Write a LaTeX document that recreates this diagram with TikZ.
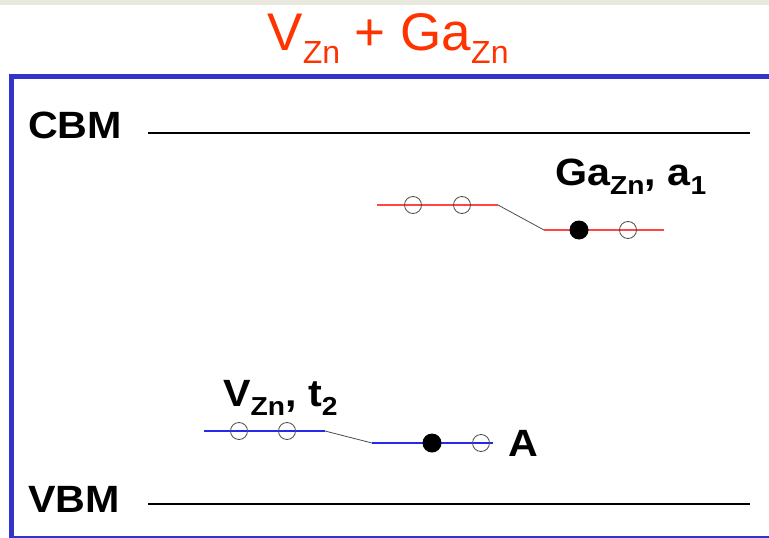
\documentclass[tikz,border=0pt]{standalone}
\usepackage{fontspec}
\setmainfont{Liberation Sans}
\newfontfamily\labelfont[FakeStretch=1.085]{Liberation Sans}
\usetikzlibrary{positioning}
\definecolor{frameblue}{RGB}{51,51,204}
\definecolor{titlered}{RGB}{255,51,0}
\definecolor{levelred}{RGB}{255,70,70}
\definecolor{levelblue}{RGB}{40,40,235}
\definecolor{bandgray}{RGB}{232,232,222}
\newcommand{\subtext}[2][26]{\raisebox{-0.25em}{\fontsize{#1}{#1}\selectfont #2}}

\begin{document}
\begin{tikzpicture}[x=1pt, y=-1pt,
    every node/.style={font=\labelfont\fontsize{38}{38}\selectfont\bfseries, inner sep=0pt},
    bandedge/.style={black, line width=2pt},
    redlevel/.style={levelred, line width=1.5pt},
    bluelevel/.style={levelblue, line width=1.5pt},
    tilt/.style={black!70, line width=0.8pt},
    hole/.style={circle, draw=black!70, line width=0.8pt, minimum size=17pt},
    electron/.style={circle, fill=black, minimum size=19pt}]
  \useasboundingbox (0,0) rectangle (769,538);

  % Background band and frame
  \fill[bandgray] (0,0) rectangle (769,5);
  \draw[frameblue, line width=5pt] (790,76) -- (11,76) -- (11,538) -- (790,538);

  % Title
  \node[anchor=base, text=titlered, font=\rmfamily\fontsize{53}{53}\selectfont] (title) at (388,50)
    {V\subtext[32]{Zn} + Ga\subtext[32]{Zn}};

  % Band edges
  \node[anchor=base west] (cbm) at (28,138) {CBM};
  \coordinate (cbmL) at (148,133);
  \coordinate (cbmR) at (750,133);
  \draw[bandedge] (cbmL) -- (cbmR);
  \node[anchor=base west] (vbm) at (28,512) {VBM};
  \coordinate (vbmL) at (148,504);
  \coordinate (vbmR) at (750,504);
  \draw[bandedge] (vbmL) -- (vbmR);

  % Ga_Zn, a_1 level
  \coordinate (ga1) at (377,205);
  \coordinate (ga2) at (498,205);
  \coordinate (ga3) at (544,230);
  \coordinate (ga4) at (664,230);
  \draw[redlevel] (ga1) -- (ga2);
  \draw[tilt] (ga2) -- (ga3);
  \draw[redlevel] (ga3) -- (ga4);
  \node[hole] (gaA) at (413,205) {};
  \node[hole] (gaB) at (462,205) {};
  \node[electron] (gaC) at (579,230) {};
  \node[hole] (gaD) at (628,230) {};
  \node[anchor=base west] (galabel) at (555,185) {Ga\subtext{Zn}, a\subtext{1}};

  % V_Zn, t_2 level
  \coordinate (v1) at (204,431);
  \coordinate (v2) at (325,431);
  \coordinate (v3) at (372,443);
  \coordinate (v4) at (493,443);
  \draw[bluelevel] (v1) -- (v2);
  \draw[tilt] (v2) -- (v3);
  \draw[bluelevel] (v3) -- (v4);
  \node[hole] (vA) at (239,431) {};
  \node[hole] (vB) at (287,431) {};
  \node[electron] (vC) at (432,443) {};
  \node[hole] (vD) at (481,443) {};
  \node[anchor=base west] (vlabel) at (223,406) {V\subtext{Zn}, t\subtext{2}};
  \node[right=18pt of vD] (alabel) {A};
\end{tikzpicture}
\end{document}
